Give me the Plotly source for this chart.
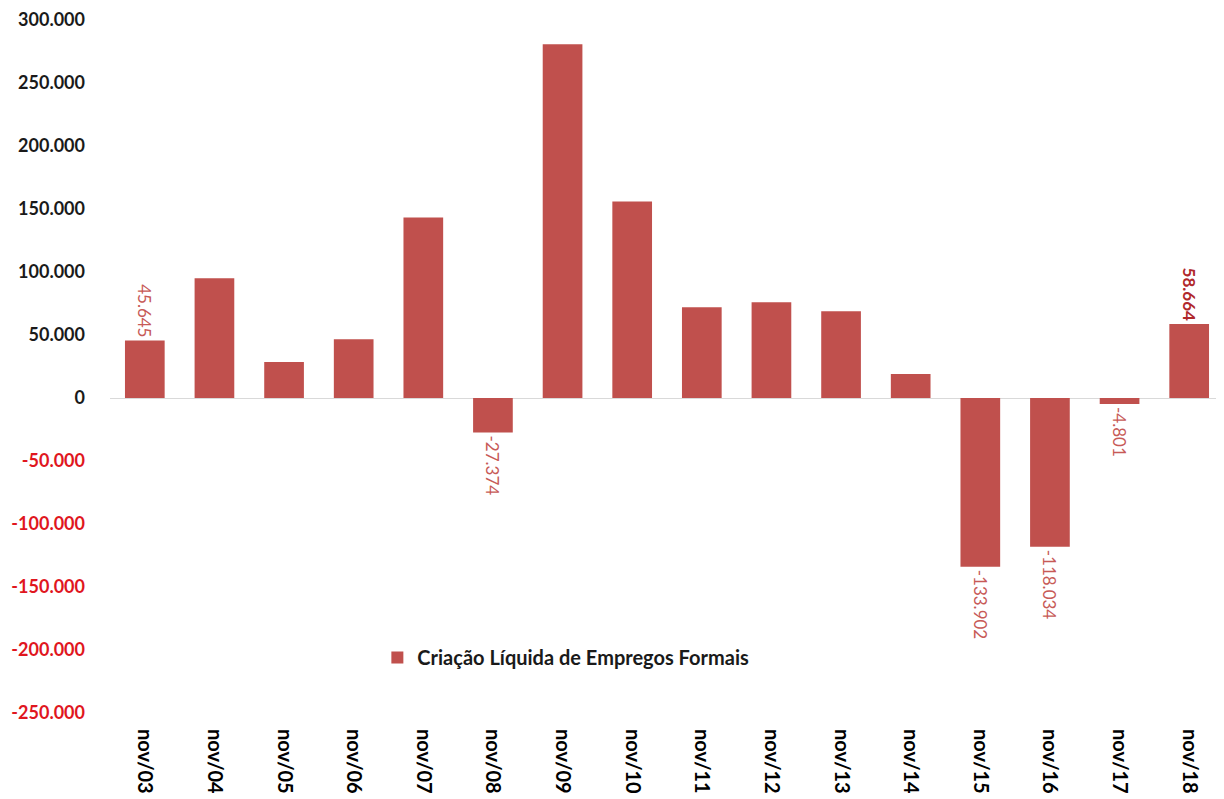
import plotly.graph_objects as go

categories = ["nov/03", "nov/04", "nov/05", "nov/06", "nov/07", "nov/08", "nov/09", "nov/10",
              "nov/11", "nov/12", "nov/13", "nov/14", "nov/15", "nov/16", "nov/17", "nov/18"]
values = [45645, 95000, 28500, 46700, 143200, -27374, 280800, 155900,
          72000, 76000, 68800, 19000, -133902, -118034, -4801, 58664]
labeled = [True, False, False, False, False, True, False, False,
           False, False, False, False, True, True, True, True]
tick_values = list(range(-250000, 300001, 50000))
series_name = "Criação Líquida de Empregos Formais"

BAR = "#c0504d"
LABEL = "#c75a57"
LAST_LABEL = "#b0282b"
NEG_TICK = "#e0161e"
FONT = "Lato, 'Noto Sans', sans-serif"


def fmt(v):
    s = f"{abs(v):,}".replace(",", ".")
    return ("-" if v < 0 else "") + s


texts = []
colors = []
for i, (v, show) in enumerate(zip(values, labeled)):
    if not show:
        texts.append("")
        colors.append(LABEL)
    elif i == len(values) - 1:
        texts.append("<b>" + fmt(v) + "</b>")
        colors.append(LAST_LABEL)
    else:
        texts.append(fmt(v))
        colors.append(LABEL)

tick_text = []
for t in tick_values:
    if t < 0:
        tick_text.append(f'<span style="color:{NEG_TICK}"><b>{fmt(t)}</b></span>')
    else:
        tick_text.append(f"<b>{fmt(t)}</b>")

fig = go.Figure(
    go.Bar(
        x=categories,
        y=values,
        name=series_name,
        marker=dict(color=BAR, line=dict(width=0)),
        text=texts,
        textposition="outside",
        textangle=90,
        textfont=dict(family=FONT, size=17, color=colors),
        constraintext="none",
        cliponaxis=False,
        showlegend=True,
    )
)

# the page body has an 8px default margin, so margins are offset by 8px
fig.update_layout(
    width=1224,
    height=799,
    autosize=False,
    margin=dict(l=102, r=8, t=12, b=94),
    paper_bgcolor="white",
    plot_bgcolor="white",
    bargap=0.43,
    font=dict(family=FONT, color="black"),
    showlegend=True,
    legend=dict(
        x=0.240, y=0.08, xanchor="left", yanchor="middle",
        orientation="h",
        itemwidth=30,
        font=dict(size=20, color="#1a1a1a", family=FONT, weight="bold"),
        bgcolor="rgba(0,0,0,0)",
    ),
    xaxis=dict(
        type="category",
        tickangle=90,
        tickfont=dict(size=20, color="black", family=FONT, weight="bold"),
        showgrid=False,
        showline=False,
        ticks="",
        ticklabelstandoff=15,
        ticklabeloverflow="allow",
        automargin=False,
    ),
    yaxis=dict(
        range=[-250000, 300000],
        tickvals=tick_values,
        ticktext=tick_text,
        tickfont=dict(size=18, color="#1a1a1a", family=FONT),
        showgrid=False,
        zeroline=True,
        zerolinecolor="#d9d9d9",
        zerolinewidth=1,
        showline=False,
        ticks="",
        ticklabelstandoff=24,
        ticklabeloverflow="allow",
        automargin=False,
    ),
)

fig.write_html("out.html")
